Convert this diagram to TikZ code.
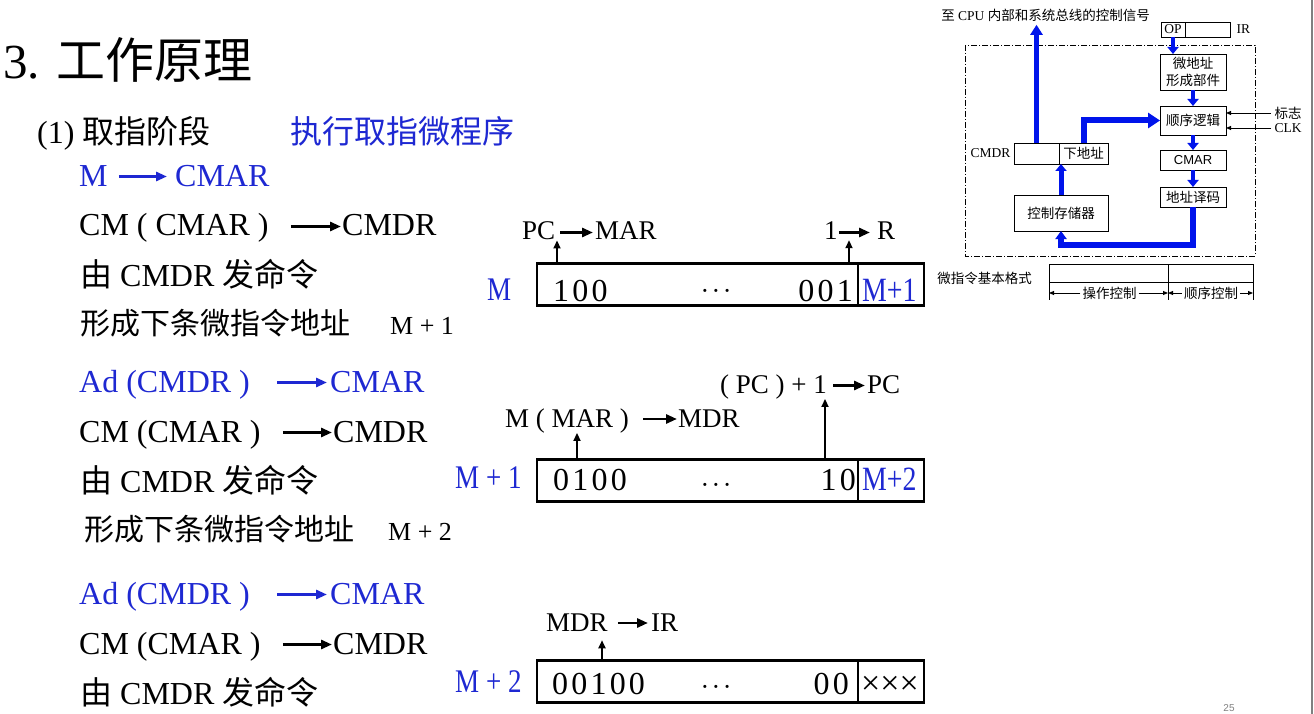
\documentclass[tikz,border=0pt]{standalone}
\usepackage{fontspec}
\setmainfont{Liberation Serif}
\newfontfamily\cjk{Noto Sans CJK SC}
\newfontfamily\arialfont{Liberation Sans}
\newfontfamily\narrowfont[FakeStretch=0.82]{Liberation Serif}
\usetikzlibrary{arrows.meta,positioning}
\definecolor{slideblue}{RGB}{30,40,210}
\definecolor{busblue}{RGB}{0,20,235}
\newcommand{\fsz}[1]{\fontsize{#1}{#1}\selectfont}
\newcommand{\dotsrow}{·\kern2.5pt·\kern2.5pt·}
\newcommand{\bk}{\kern3.2pt}

\begin{document}
\begin{tikzpicture}[x=1pt, y=-1pt]
  \tikzset{
      txt/.style={anchor=base west, inner sep=0pt, font=\fsz{32}},
      bluetxt/.style={txt, text=slideblue},
      hint/.style={anchor=base west, inner sep=0pt, font=\fsz{27}},
      bits/.style={anchor=base west, inner sep=0pt, font=\fsz{32}},
      addr/.style={anchor=base west, inner sep=0pt, text=slideblue, font=\narrowfont\fsz{33}},
      gap/.style={anchor=base, inner sep=0pt, font=\fsz{26}},
      flow/.style={-{Triangle[length=11pt,width=9pt]}, line width=2.8pt},
      bluflow/.style={flow, draw=slideblue},
      tick/.style={-{Triangle[length=8pt,width=7pt]}, line width=1.8pt},
      field/.style={draw, line width=2.6pt, minimum height=42pt, inner sep=0pt},
      unit/.style={draw, line width=0.9pt, inner sep=0pt, outer sep=0pt, align=center, font=\cjk\fsz{13.5}},
      bus/.style={draw=busblue, line width=4.5pt, -{Triangle[length=7pt,width=11pt]}},
      wire/.style={-{Triangle[length=5pt,width=4pt]}, line width=0.9pt}
  }
  \useasboundingbox[fill=white] (0,0) rectangle (1314,714);

  % heading
  \node[txt, font=\fsz{49}] (title) at (3,79) {3. {\cjk 工作原理}};
  \node[txt] (phase) at (37,144) {(1) {\cjk 取指阶段}};
  \node[bluetxt] (prog) at (290,144) {\cjk 执行取指微程序};

  % micro-operations, step M
  \node[bluetxt] (s1a) at (79,186) {M};
  \node[bluetxt] (s1b) at (175,186) {CMAR};
  \draw[bluflow] ([xshift=11pt,yshift=9.5pt]s1a.base east) -- ([xshift=-8pt,yshift=9.5pt]s1b.base west);
  \node[txt] (s2a) at (79,236) {CM ( CMAR )};
  \node[txt] (s2b) at (342,236) {CMDR};
  \draw[flow] ([xshift=22pt,yshift=9.5pt]s2a.base east) -- ([xshift=-1pt,yshift=9.5pt]s2b.base west);
  \node[txt] (s3) at (80,286) {{\cjk 由} CMDR {\cjk 发命令}};
  \node[txt, font=\fsz{30}] (s4) at (80,334) {\cjk 形成下条微指令地址};
  \node[txt, font=\fsz{26}] (s4n) at (390,334) {M + 1};

  % step M+1
  \node[bluetxt] (s5a) at (79,392) {Ad (CMDR )};
  \node[bluetxt] (s5b) at (330,392) {CMAR};
  \draw[bluflow] ([xshift=27pt,yshift=9.5pt]s5a.base east) -- ([xshift=-3pt,yshift=9.5pt]s5b.base west);
  \node[txt] (s6a) at (79,442) {CM (CMAR )};
  \node[txt] (s6b) at (333,442) {CMDR};
  \draw[flow] ([xshift=22pt,yshift=9.5pt]s6a.base east) -- ([xshift=-1pt,yshift=9.5pt]s6b.base west);
  \node[txt] (s7) at (80,492) {{\cjk 由} CMDR {\cjk 发命令}};
  \node[txt, font=\fsz{30}] (s8) at (84,540) {\cjk 形成下条微指令地址};
  \node[txt, font=\fsz{26}] (s8n) at (388,540) {M + 2};

  % step M+2
  \node[bluetxt] (s9a) at (79,604) {Ad (CMDR )};
  \node[bluetxt] (s9b) at (330,604) {CMAR};
  \draw[bluflow] ([xshift=27pt,yshift=9.5pt]s9a.base east) -- ([xshift=-3pt,yshift=9.5pt]s9b.base west);
  \node[txt] (s10a) at (79,654) {CM (CMAR )};
  \node[txt] (s10b) at (333,654) {CMDR};
  \draw[flow] ([xshift=22pt,yshift=9.5pt]s10a.base east) -- ([xshift=-1pt,yshift=9.5pt]s10b.base west);
  \node[txt] (s11) at (80,704) {{\cjk 由} CMDR {\cjk 发命令}};

  % microinstruction M
  \node[field, minimum width=321pt] (f1) at (697.5,284.5) {};
  \node[field, minimum width=66pt] (n1) at (891,284.5) {};
  \node[addr] (a1) at (487,300) {M};
  \node[bits] (b1l) at (553,301) {1\bk0\bk0};
  \node[gap] (d1) at (716,299.5) {\dotsrow};
  \node[bits, anchor=base east] (b1r) at (853,301) {0\bk0\bk1};
  \node[addr, font=\narrowfont\fsz{34}] (x1) at (862,301) {M+1};
  \node[hint] (pc) at (522,240) {PC};
  \node[hint] (mar) at (595,240) {MAR};
  \draw[flow] ([xshift=5pt,yshift=7.5pt]pc.base east) -- ([xshift=-2pt,yshift=7.5pt]mar.base west);
  \node[hint] (one) at (824,240) {1};
  \node[hint] (rreg) at (877,240) {R};
  \draw[flow] ([xshift=1pt,yshift=7.5pt]one.base east) -- ([xshift=-7pt,yshift=7.5pt]rreg.base west);
  \coordinate (pcfoot) at (557,263);
  \coordinate (onefoot) at (849,263);
  \draw[tick] (pcfoot) -- (pcfoot |- pc.south);
  \draw[tick] (onefoot) -- (onefoot |- one.south);

  % microinstruction M+1
  \node[field, minimum width=321pt] (f2) at (697.5,480.5) {};
  \node[field, minimum width=66pt] (n2) at (891,480.5) {};
  \node[addr] (a2) at (455,488) {M + 1};
  \node[bits] (b2l) at (553,490) {0\bk1\bk0\bk0};
  \node[gap] (d2) at (716,493.5) {\dotsrow};
  \node[bits, anchor=base east] (b2r) at (856,490) {1\bk0};
  \node[addr, font=\narrowfont\fsz{34}] (x2) at (862,490) {M+2};
  \node[hint] (mmar) at (505,427) {M ( MAR )};
  \node[hint] (mdr) at (678,427) {MDR};
  \draw[flow] ([xshift=14pt,yshift=8pt]mmar.base east) -- ([xshift=-1pt,yshift=8pt]mdr.base west);
  \node[hint] (pcinc) at (720,393) {( PC ) + 1};
  \node[hint] (pcnew) at (867,393) {PC};
  \draw[flow] ([xshift=6pt,yshift=7.5pt]pcinc.base east) -- ([xshift=-2pt,yshift=7.5pt]pcnew.base west);
  \coordinate (marfoot) at (577,459);
  \coordinate (incfoot) at (825,459);
  \draw[tick] (marfoot) -- (marfoot |- mmar.south);
  \draw[tick] (incfoot) -- (incfoot |- pcinc.south);

  % microinstruction M+2
  \node[field, minimum width=321pt] (f3) at (697.5,681.5) {};
  \node[field, minimum width=66pt] (n3) at (891,681.5) {};
  \node[addr] (a3) at (455,692) {M + 2};
  \node[bits] (b3l) at (552,694) {0\bk0\bk1\bk0\bk0};
  \node[gap] (d3) at (716,695.5) {\dotsrow};
  \node[bits, anchor=base east] (b3r) at (849,694) {0\bk0};
  \node[bits, font=\fsz{34}] (x3) at (861,694) {×××};
  \node[hint] (mdr2) at (546,631) {MDR};
  \node[hint] (irreg) at (651,631) {IR};
  \draw[flow] ([xshift=10pt,yshift=8pt]mdr2.base east) -- ([xshift=-3pt,yshift=8pt]irreg.base west);
  \coordinate (mdrfoot) at (602,661);
  \draw[tick, shorten >=9pt] (mdrfoot) -- (mdrfoot |- mdr2.south);

  % control unit block diagram
  \node[font=\fsz{13.5}] (sig) at (1045.5,15) {{\cjk 至} CPU {\cjk 内部和系统总线的控制信号}};
  \draw[line width=0.8pt, dash pattern=on 6pt off 2pt on 1pt off 2pt] (965,45) rectangle (1255,256);
  \node[unit, minimum width=24pt, minimum height=15pt, font=\fsz{13.5}] (op) at (1173,29.5) {OP};
  \node[unit, minimum width=45pt, minimum height=15pt, right=0pt of op] (irbox) {};
  \node[font=\fsz{13.5}, right=3pt of irbox] (irlbl) {IR};
  \node[unit, minimum width=66pt, minimum height=36pt, font=\cjk\fontsize{13.5}{17}\selectfont] (maf) at (1193,72) {微地址\\形成部件};
  \node[unit, minimum width=66pt, minimum height=29pt] (seq) at (1193,120.5) {顺序逻辑};
  \node[unit, minimum width=66pt, minimum height=20pt, font=\arialfont\fsz{13}] (cmar) at (1193,160) {CMAR};
  \node[unit, minimum width=66pt, minimum height=20pt] (dec) at (1193,197) {地址译码};
  \node[unit, minimum width=45pt, minimum height=21pt] (cmdr) at (1036.5,153.5) {};
  \node[unit, minimum width=49pt, minimum height=21pt, right=0pt of cmdr] (nxt) {下地址};
  \node[font=\fsz{13.5}, left=0pt of cmdr] (cmdrlbl) {CMDR};
  \node[unit, minimum width=94pt, minimum height=36pt] (cm) at (1061,213) {控制存储器};
  \draw[bus, line width=4pt] (op.south) -- (op.south |- maf.north);
  \draw[bus] (maf) -- (seq);
  \draw[bus] (seq) -- (cmar);
  \draw[bus] (cmar) -- (dec);
  \draw[bus, line width=6pt, -{Triangle[length=8pt,width=11pt]}] (dec.south) -- ++(0,38) -| (cm.south);
  \draw[bus, line width=5pt] (cm.north) -- (cm.north |- cmdr.south);
  \draw[bus, line width=6pt, -{Triangle[length=12pt,width=15pt]}] (nxt.north) |- (seq.west);
  \draw[bus, line width=5pt, -{Triangle[length=10pt,width=12pt]}] (cmdr.north) -- (cmdr.north |- sig.south);
  \node[font=\cjk\fsz{13.5}, anchor=west] (flag) at (1271,113) {标志};
  \node[font=\fsz{13.5}, anchor=west] (clk) at (1271,128) {CLK};
  \draw[wire] (flag.west) -- (flag.west -| seq.east);
  \draw[wire] (clk.west) -- (clk.west -| seq.east);

  % microinstruction format
  \node[font=\cjk\fsz{13.5}] (fmtlbl) at (984.5,278) {微指令基本格式};
  \node[unit, minimum width=119pt, minimum height=18pt] (fop) at (1108.5,273) {};
  \node[unit, minimum width=85pt, minimum height=18pt, right=0pt of fop] (fseq) {};
  \draw[line width=0.9pt] (fop.south west) -- ++(0,18) (fop.south east) -- ++(0,18) (fseq.south east) -- ++(0,18);
  \node[font=\cjk\fsz{13.5}, inner sep=2pt] (oplbl) at (1109.5,293) {操作控制};
  \node[font=\cjk\fsz{13.5}, inner sep=2pt] (sqlbl) at (1211,293) {顺序控制};
  \draw[wire] (oplbl.west) -- (oplbl.west -| fop.west);
  \draw[wire] (oplbl.east) -- (oplbl.east -| fop.east);
  \draw[wire] (sqlbl.west) -- (sqlbl.west -| fseq.west);
  \draw[wire] (sqlbl.east) -- (sqlbl.east -| fseq.east);

  % page number and slide edge
  \node[font=\arialfont\fsz{10}, text=gray] (pg) at (1229,708) {25};
  \draw[gray, line width=2pt] (1312,0) -- (1312,714);
\end{tikzpicture}
\end{document}
